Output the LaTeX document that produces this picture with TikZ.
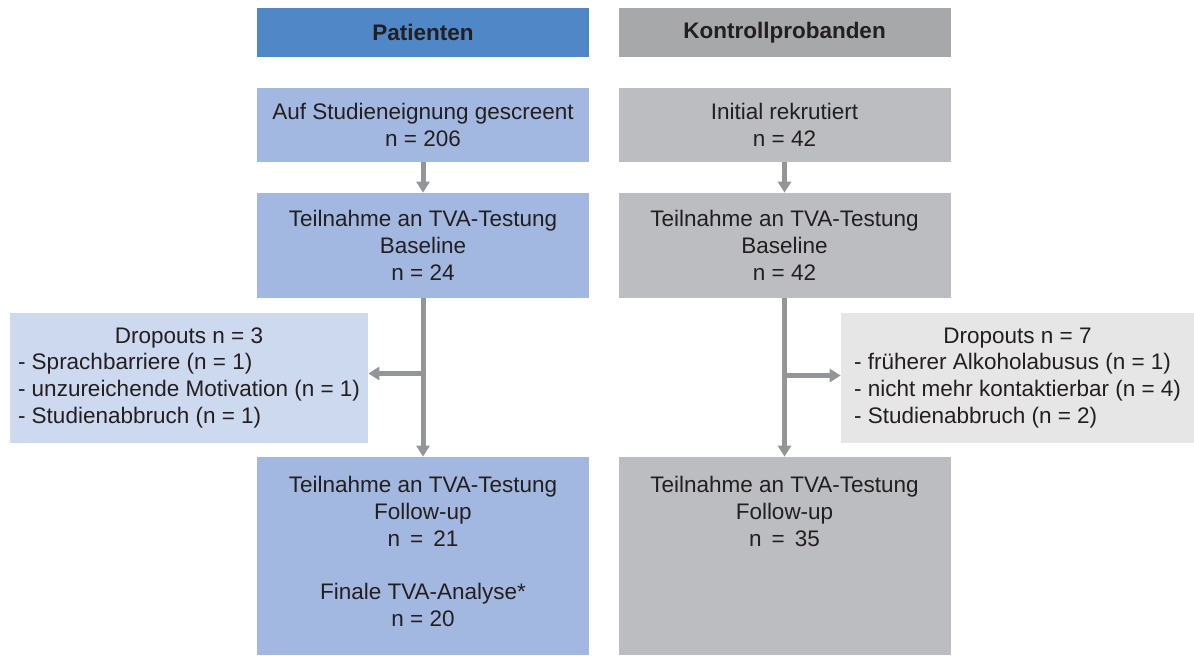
\documentclass[tikz,border=0pt]{standalone}
\usepackage{fontspec}
\setmainfont{Liberation Sans}
\usetikzlibrary{arrows.meta}
\definecolor{patHead}{HTML}{5087C7}
\definecolor{patBox}{HTML}{A3B8E0}
\definecolor{patDrop}{HTML}{CDD9EE}
\definecolor{conHead}{HTML}{A7A8AA}
\definecolor{conBox}{HTML}{BCBDC0}
\definecolor{conDrop}{HTML}{E6E6E7}
\definecolor{arrowGray}{HTML}{939598}
\definecolor{txt}{HTML}{231F20}
\begin{document}
\begin{tikzpicture}[
  font=\fontsize{12.8pt}{15.3pt}\selectfont,
  box/.style={minimum width=6.64cm, align=center, text=txt, inner sep=0pt},
  head/.style={box, minimum height=0.98cm, font=\fontsize{12.8pt}{15.3pt}\selectfont\bfseries},
  pat/.style={box, fill=patBox},
  con/.style={box, fill=conBox},
  drop/.style={text=txt, inner sep=0pt, minimum height=2.6cm},
  flow/.style={draw=arrowGray, line width=0.1cm, -{Triangle[length=0.22cm, width=0.26cm]}}
]
\useasboundingbox (0,0) rectangle (23.88,-13.1);

% column heads
\node[head, fill=patHead] (hp) at (8.46,-0.65) {Patienten};
\node[head, fill=conHead] (hk) at (15.69,-0.65) {Kontrollprobanden};

% screening and baseline
\node[pat, minimum height=1.48cm] (p1) at (8.46,-2.5) {Auf Studieneignung gescreent\\ n = 206};
\node[con, minimum height=1.48cm] (k1) at (15.69,-2.5) {Initial rekrutiert\\ n = 42};
\node[pat, minimum height=2.1cm] (p2) at (8.46,-4.91) {Teilnahme an TVA-Testung\\ Baseline\\ n = 24};
\node[con, minimum height=2.1cm] (k2) at (15.69,-4.91) {Teilnahme an TVA-Testung\\ Baseline\\ n = 42};

% dropouts
\node[drop, fill=patDrop, minimum width=7.16cm] (dp) at (3.78,-7.56)
  {\begin{tabular}{@{}l@{}}\multicolumn{1}{@{}c@{}}{Dropouts n = 3}\\
   - Sprachbarriere (n = 1)\\
   - unzureichende Motivation (n = 1)\\
   - Studienabbruch (n = 1)\end{tabular}};
\node[drop, fill=conDrop, minimum width=7.06cm] (dk) at (20.35,-7.56)
  {\begin{tabular}{@{}l@{}}\multicolumn{1}{@{}c@{}}{Dropouts n = 7}\\
   - früherer Alkoholabusus (n = 1)\\
   - nicht mehr kontaktierbar (n = 4)\\
   - Studienabbruch (n = 2)\end{tabular}};
\coordinate (dpin) at ([yshift=0.09cm]dp.east);
\coordinate (dkin) at ([yshift=0.05cm]dk.west);

% follow-up
\node[pat, minimum height=3.96cm] (p3) at (8.46,-11.12)
  {\parbox[c][3.2cm][t]{6.4cm}{\centering Teilnahme an TVA-Testung\\ Follow-up\\ n\, = \,21\\[\baselineskip]
   Finale TVA-Analyse*\\ n = 20}};
\node[con, minimum height=3.96cm] (k3) at (15.69,-11.12)
  {\parbox[c][3.2cm][t]{6.4cm}{\centering Teilnahme an TVA-Testung\\ Follow-up\\ n\, = \,35}};

\draw[flow] (p1) -- (p2);
\draw[flow] (k1) -- (k2);
\draw[flow] (p2) -- (p3);
\draw[flow] (k2) -- (k3);
\draw[flow] (p2.south |- dpin) -- (dpin);
\draw[flow] (k2.south |- dkin) -- (dkin);
\end{tikzpicture}
\end{document}
